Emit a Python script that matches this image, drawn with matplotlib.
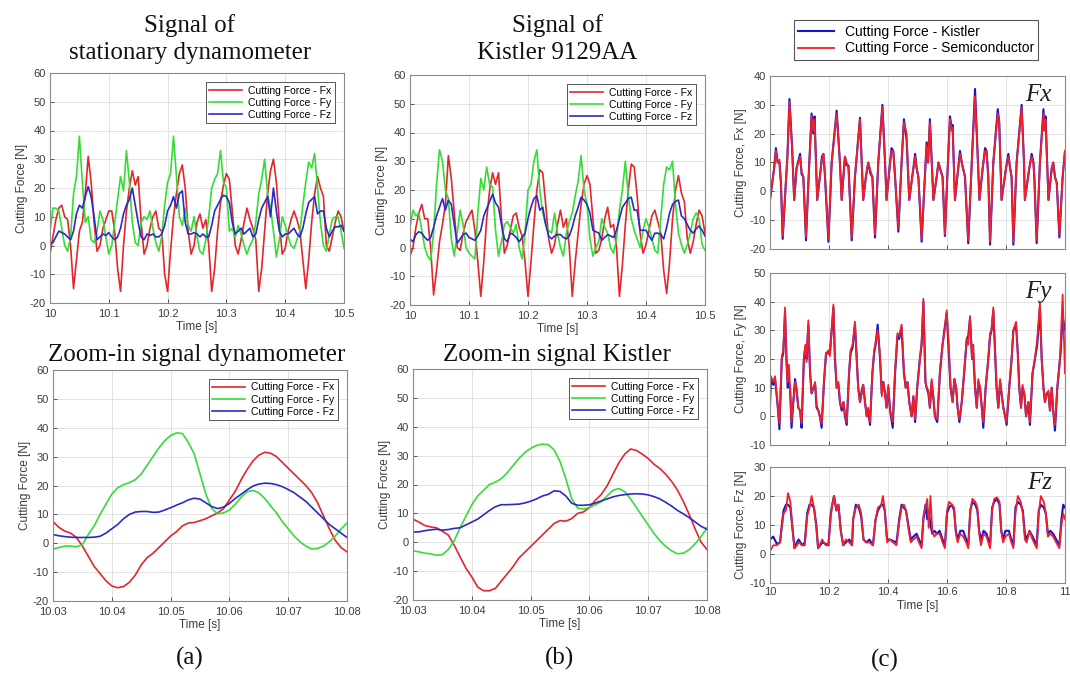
import numpy as np
import matplotlib
matplotlib.use("Agg")
import matplotlib.pyplot as plt

# ---------------- data ----------------
# top panels: 10.0 .. 10.5 s, one sample every 5 ms
t_top = np.linspace(10.0, 10.5, 101)

fx_dyn = [-3, 3, 9, 13, 14, 10, 9, 0, -15, -5,
          5, 8, 18, 31, 22, 8, -2, 0, 6, 9,
          12, 12, 5, -8, -16, 0, 12, 20, 26, 21,
          24, 8, -3, 0, 6, 10, 12, 6, 5, -10,
          -16, -2, 10, 18, 25, 28, 20, 5, -3, 0,
          8, 11, 6, 9, 0, -16, -8, 5, 15, 21,
          25, 23, 12, 0, -3, 2, 8, 13, 9, 6,
          2, -16, -8, 5, 18, 26, 30, 22, 8, -3,
          -1, 5, 9, 12, 9, 5, -5, -15, -5, 8,
          18, 24, 20, 17, 0, -2, 3, 8, 12, 10,
          5]
fy_dyn = [5, 13, 13, 12, 6, 0, -2, 3, 18, 24,
          38, 22, 8, 10, 2, 1, 5, 12, 9, 3,
          -3, 0, 8, 16, 24, 19, 33, 22, 8, 1,
          0, 8, 10, 9, 12, 6, 1, -2, 3, 14,
          22, 25, 38, 24, 10, 7, 13, 7, 5, 10,
          3, -2, -3, 2, 10, 20, 23, 25, 33, 22,
          20, 5, 6, 3, 7, 4, 0, -3, 0, 2,
          8, 18, 23, 30, 18, 13, 5, -4, 2, 10,
          7, 3, 0, -1, 2, 5, 14, 22, 29, 27,
          32, 20, 8, 0, -2, 4, 9, 10, 10, 5,
          -1]
fz_dyn = [1, 1, 3, 5, 4.5, 4, 3, 2, 5, 11,
          14, 13, 17, 20.5, 17, 10, 2, 3, 4, 3.5,
          4.5, 3, 2, 3, 6, 11, 14, 16, 20, 14,
          8, 3, 2, 4, 3.5, 4, 3, 3, 4, 7,
          12, 14, 17, 13, 18, 19, 8, 4, 4, 4.5,
          4, 3, 4, 3, 3, 7, 12, 14, 16, 17.5,
          17, 15, 8, 4, 5, 6, 4, 5, 6, 3,
          4, 9, 13, 15, 17, 10, 20, 12, 5, 3,
          4, 4, 5, 6, 4, 3, 6, 11, 15, 16,
          17, 11, 12, 12, 6, 3, 5, 6.5, 6.5, 7,
          5]

fx_kis = [-3, 0, 7, 12, 15, 10, 10, 0, -16.5, -8,
          2, 8, 15, 32, 24, 12, 0, -1, 5, 9,
          11, 13, 6, -5, -17, -5, 10, 20, 26, 22,
          26, 10, -2, 1, 6, 11, 12, 7, 4, -5,
          -17, -5, 8, 20, 27, 26, 15, 3, -2, 1,
          8, 13, 7, 10, 0, -17, -5, 5, 15, 22,
          25, 22, 10, -2, -1, 3, 10, 14, 7, 8,
          0, -17, -6, 8, 20, 29, 28, 18, 5, -2,
          1, 6, 11, 13, 9, 5, -8, -16, -5, 10,
          20, 25, 19, 16, 3, -2, 2, 8, 13, 11,
          5]
fy_kis = [7, 13, 11, 12, 6, 0, -3, -4.5, 5, 22,
          34, 30, 20, 17, 3, -3, 5, 13, 8, 0,
          -2, -3, -4, 12, 24, 20, 28, 22, 21, 6,
          -3, 2, 8, 9, 7, 5, 8, 0, -4, 5,
          20, 22, 30, 34, 20, 12, 8, 6, 5, 12,
          5, 0, -3, 5, 9, 12, 18, 23, 32, 20,
          15, 3, -3, 0, 2, 10, 7, 5, 0, -2,
          3, 13, 20, 30, 18, 10, 6, 3, 0, 6,
          10, 7, 3, -1, -2, 10, 22, 28, 27, 30,
          15, 5, 1, -2, 1, 5, 10, 12, 10, 1,
          -1]
fz_kis = [3, 2, 4.5, 5.5, 5, 3.5, 2.5, 3.5, 7, 11,
          14, 17, 13, 16.5, 15, 8, 1.5, 3, 4.5, 5,
          3.5, 3, 2.5, 4, 6, 11, 13.5, 16, 18.5, 15.5,
          14, 8, 3, 2, 5, 4.5, 3.5, 2, 3.5, 5,
          10, 14, 17, 18, 13, 14, 8, 4, 3, 4,
          4.5, 4.5, 3.5, 3, 4, 7, 11, 14, 17.5, 16.5,
          15, 12, 6, 5.5, 5, 2.5, 3.5, 4.5, 4, 3.5,
          6, 10, 14, 15.5, 17, 17.5, 13, 13, 6, 6,
          6, 4, 2.5, 5, 5, 4.5, 3, 7, 12, 15,
          16, 16.5, 11, 10, 8, 6, 5, 6.5, 7.5, 6,
          4]

# zoom-in panels: 10.03 .. 10.08 s, one sample every 1 ms
t_zoom = np.linspace(10.03, 10.08, 51)

fx_dyn_zoom = [7.5, 5.5, 4.2, 3.5, 2, -1, -4.5, -8, -10.5, -13,
               -14.8, -15.4, -15, -13.5, -11, -7.5, -5, -3.5, -1.5, 0.5,
               2.5, 4, 6, 7, 7.2, 7.8, 8.5, 9.5, 10.5, 12,
               15, 18, 22, 25.5, 28.5, 30.5, 31.5, 31.2, 30, 28,
               26, 24, 22, 20, 17.5, 14, 9.5, 5, 1, -1.5,
               -3]
fy_dyn_zoom = [-2, -1.5, -1, -1, -1.2, -0.5, 3, 6, 10, 13.5,
               17, 19.2, 20.3, 21, 22, 24, 27, 30, 33, 35.5,
               37.3, 38.2, 38, 35, 31, 24, 17, 12, 10.2, 10.5,
               11.5, 13.5, 16, 17.8, 18.3, 17.5, 15.5, 13, 10.5, 7.5,
               5, 2.5, 0.5, -1, -2, -1.8, -1, 0.5, 2.5, 5,
               7]
fz_dyn_zoom = [3, 2.6, 2.3, 2.1, 2, 2, 2, 2.1, 2.4, 3.5,
               5, 6.5, 8.5, 10, 10.8, 11, 11, 10.7, 10.8, 11.5,
               12.3, 13.2, 14, 15, 15.6, 15.3, 14, 12.7, 12, 12.5,
               13.8, 15.5, 17, 18.5, 19.8, 20.5, 20.8, 20.7, 20.3, 19.6,
               18.6, 17.5, 16, 14.5, 12.5, 10.5, 8.5, 6.5, 5, 3.5,
               2]

fx_kis_zoom = [8, 7, 5.8, 5.3, 5, 3.8, 2.5, -1, -5, -9,
               -12, -15.5, -16.8, -16.8, -16, -13.5, -11, -8.5, -5.5, -3.5,
               -1.5, 0.5, 2.5, 4.5, 6.5, 7.5, 7.3, 8.2, 10, 10.5,
               12, 14.5, 16.5, 19.5, 23.5, 27.5, 30.5, 32.3, 31.8, 30.5,
               29, 27, 25.5, 23.5, 21, 18, 14, 9.5, 4.5, 0,
               -2.5]
fy_kis_zoom = [-3, -3.3, -3.8, -4, -4.5, -4.3, -2.5, 0.5, 5, 9,
               13, 16, 18, 20, 20.8, 22, 24, 26.5, 29, 31,
               32.5, 33.5, 34, 33.8, 32, 28, 22, 15, 11.8, 11.5,
               12, 13, 14, 16, 18, 18.6, 17.5, 15, 12, 9,
               6, 3, 0.5, -1.5, -3, -4, -3.8, -2.5, -0.5, 2,
               5]
fz_kis_zoom = [3.5, 3.6, 4, 4.3, 4.5, 4.2, 4.4, 4.8, 5, 6,
               7, 8, 9.5, 11, 12.3, 13, 13, 13.1, 13.2, 13.6,
               14.2, 15, 16, 16.6, 17.8, 17.6, 16, 13.5, 12.8, 12.8,
               13, 13.6, 14.3, 15, 15.7, 16.2, 16.5, 16.7, 16.8, 16.7,
               16.4, 15.8, 15, 13.8, 12.5, 11, 9.8, 8.5, 7, 5.5,
               4.5]

# right column: Kistler vs semiconductor sensor, 10 .. 11 s
t_fx = [10.000, 10.014, 10.020, 10.026, 10.032, 10.037, 10.043, 10.052, 10.059, 10.066,
        10.075, 10.082, 10.090, 10.102, 10.107, 10.113, 10.122, 10.131, 10.141, 10.147,
        10.151, 10.160, 10.169, 10.176, 10.181, 10.186, 10.198, 10.209, 10.226, 10.237,
        10.243, 10.254, 10.260, 10.266, 10.277, 10.288, 10.305, 10.316, 10.325, 10.333,
        10.341, 10.347, 10.356, 10.367, 10.381, 10.390, 10.395, 10.407, 10.412, 10.418,
        10.424, 10.435, 10.446, 10.454, 10.463, 10.472, 10.486, 10.492, 10.497, 10.503,
        10.514, 10.525, 10.531, 10.536, 10.542, 10.554, 10.565, 10.571, 10.579, 10.585,
        10.593, 10.601, 10.610, 10.616, 10.619, 10.627, 10.638, 10.644, 10.650, 10.661,
        10.672, 10.684, 10.695, 10.703, 10.710, 10.721, 10.729, 10.734, 10.740, 10.746,
        10.757, 10.772, 10.777, 10.785, 10.800, 10.808, 10.814, 10.819, 10.825, 10.836,
        10.853, 10.861, 10.864, 10.879, 10.887, 10.893, 10.896, 10.904, 10.915, 10.927,
        10.930, 10.934, 10.944, 10.955, 10.960, 10.966, 10.972, 10.981, 10.992, 11.000]
fx_kistler = [-3, 8, 15, 10, 10, 3, -16.5, 0, 12, 32,
              15, -3, 8, 13, 6, 5, -17, 5, 27, 20,
              26, -3, 5, 12, 13, 6, -17.5, 10, 28, 10,
              -3, 12, 9, 9, -17, 5, 25.5, -3, 5, 10,
              6, 5, -16, 10, 30, 10, -3, 10, 15, 14,
              5, -14, 10, 25, 18, -3, 8, 13, 8, 5,
              -17.5, 5, 17, 10, 25, -3, 5, 10, 7, 5,
              -15.5, 5, 26, 22, 23, -3, 8, 14, 10, 5,
              -18, 10, 35.5, 15, -3, 8, 15, 14, 5, -18.5,
              10, 28.5, 24, -3, 8, 13, 8, 5, -18.5, 10,
              30, 10, -3, 8, 13, 10, 5, -18, 10, 28.5,
              22, 26, -3, 8, 10, 5, 3, -16, 5, 14]
fx_semi = [-3, 8, 14, 10, 11, 3, -15.5, 0, 12, 31,
           15, -3, 8, 12, 7, 5, -16, 5, 26, 21,
           25, -3, 5, 11, 13, 6, -16.5, 10, 27, 10,
           -3, 12, 10, 8, -16, 5, 25, -3, 5, 10,
           7, 5, -15, 10, 29.5, 10, -3, 10, 14, 14,
           5, -13, 10, 24, 20, -3, 8, 12, 8, 5,
           -16.5, 5, 16, 10, 24, -3, 5, 10, 7, 5,
           -15, 5, 25, 21, 22, -3, 8, 13, 10, 5,
           -17, 10, 33, 15, -3, 8, 14, 14, 5, -17.5,
           10, 27, 24, -3, 8, 12, 8, 5, -17.5, 10,
           29, 10, -3, 8, 12, 10, 5, -17, 10, 27,
           21, 25, -3, 8, 10, 5, 3, -15, 5, 14]

t_fy = [10.000, 10.003, 10.011, 10.017, 10.025, 10.032, 10.040, 10.045, 10.051, 10.056,
        10.060, 10.064, 10.068, 10.073, 10.079, 10.085, 10.090, 10.096, 10.102, 10.107,
        10.115, 10.120, 10.124, 10.130, 10.136, 10.141, 10.147, 10.153, 10.158, 10.164,
        10.169, 10.175, 10.183, 10.190, 10.198, 10.203, 10.209, 10.215, 10.220, 10.226,
        10.232, 10.237, 10.243, 10.249, 10.254, 10.260, 10.268, 10.273, 10.280, 10.288,
        10.294, 10.299, 10.305, 10.311, 10.316, 10.322, 10.328, 10.333, 10.339, 10.347,
        10.353, 10.358, 10.365, 10.373, 10.379, 10.384, 10.390, 10.395, 10.401, 10.407,
        10.416, 10.424, 10.432, 10.438, 10.446, 10.454, 10.460, 10.466, 10.472, 10.480,
        10.486, 10.492, 10.499, 10.508, 10.514, 10.520, 10.527, 10.531, 10.537, 10.542,
        10.548, 10.554, 10.559, 10.567, 10.576, 10.585, 10.591, 10.599, 10.606, 10.612,
        10.619, 10.625, 10.631, 10.636, 10.642, 10.650, 10.658, 10.667, 10.672, 10.678,
        10.685, 10.689, 10.695, 10.701, 10.706, 10.712, 10.718, 10.723, 10.731, 10.740,
        10.746, 10.751, 10.757, 10.764, 10.768, 10.774, 10.780, 10.785, 10.791, 10.797,
        10.802, 10.811, 10.819, 10.825, 10.834, 10.840, 10.845, 10.851, 10.856, 10.862,
        10.868, 10.876, 10.881, 10.890, 10.898, 10.906, 10.915, 10.921, 10.927, 10.932,
        10.938, 10.944, 10.949, 10.955, 10.960, 10.966, 10.974, 10.981, 10.985, 10.992,
        11.000]
fy_kistler = [4, 13, 11, 13, 5, -4.5, 20, 22, 36, 20,
              10, 12, 10, -4, 5, 13, 9, 3, 2, -4,
              20, 24, 20, 32, 15, 8, 10, 11, 3, 2,
              0, -4, 12, 22, 22, 22, 30, 38, 20, 10,
              11, 5, 2, 5, 0, -3, 15, 22, 24, 32,
              20, 10, 5, 9, 11, 5, 0, 2, -3, 15,
              22, 25, 32, 20, 8, 12, 8, 3, 10, 2,
              -4, 15, 28, 27, 31, 15, 10, 12, 5, 0,
              7, -2, 10, 20, 25, 40, 12, 10, 8, 3,
              12, 6, 0, -2, 15, 25, 30, 36, 22, 10,
              5, 13, 10, 3, -2, 5, 15, 27, 28, 34,
              20, 22, 10, 3, 12, 10, 3, -4, 10, 20,
              28, 30, 37, 20, 10, 3, 12, 8, 3, 0,
              -3, 10, 20, 30, 32, 22, 10, 3, 10, 8,
              0, 5, -3, 15, 20, 25, 38, 20, 10, 5,
              8, 8, 2, 10, 2, -5, 10, 18, 22, 35,
              30]
fy_semi = [10, 14, 12, 14, 5, -2.5, 21, 23, 38, 18,
           12, 18, 10, -2, 5, 12, 10, 3, 2, -2.5,
           21, 25, 19, 33.5, 15, 8, 10, 12, 4, 2,
           0, -2.5, 12, 22, 23, 21, 30, 39, 22, 10,
           12, 5, 3, 5, 1, -2, 15, 23, 25, 33,
           20, 10, 5, 8, 11, 5, 0, 3, -2, 15,
           23, 26, 30, 21, 7, 12, 8, 3, 11, 2,
           -2, 16, 29, 28, 32, 16, 10, 12, 5, 0,
           7, -1, 10, 20, 26, 41, 12, 10, 9, 3,
           13, 7, 0, -1, 16, 25, 29, 37, 25, 10,
           5, 13, 10, 3, -1, 5, 15, 27, 25, 35,
           20, 25, 10, 3, 13, 10, 3, -2, 10, 20,
           29, 30, 38, 20, 10, 3, 13, 8, 3, 0,
           -2, 10, 20, 30, 33, 22, 10, 3, 11, 8,
           0, 5, -2, 15, 20, 27, 39.5, 20, 10, 5,
           8, 9, 2, 10, 2, -3, 10, 17, 25, 42.5,
           15]

t_fz = [10.000, 10.011, 10.023, 10.034, 10.040, 10.046, 10.054, 10.061, 10.069, 10.077,
        10.083, 10.091, 10.097, 10.109, 10.118, 10.126, 10.134, 10.141, 10.149, 10.157,
        10.163, 10.177, 10.189, 10.198, 10.206, 10.211, 10.217, 10.225, 10.232, 10.240,
        10.248, 10.257, 10.269, 10.278, 10.282, 10.291, 10.301, 10.309, 10.317, 10.326,
        10.337, 10.349, 10.358, 10.366, 10.377, 10.383, 10.389, 10.397, 10.406, 10.417,
        10.429, 10.438, 10.446, 10.454, 10.461, 10.469, 10.477,
        10.486, 10.497, 10.505, 10.514, 10.520, 10.527, 10.533, 10.538, 10.544, 10.550,
        10.557, 10.566, 10.575, 10.585, 10.593, 10.600, 10.607, 10.617, 10.624, 10.630,
        10.636, 10.645, 10.655, 10.665, 10.672, 10.679, 10.686, 10.696, 10.703, 10.709,
        10.715, 10.724, 10.734, 10.746, 10.753, 10.760, 10.770, 10.778, 10.784, 10.790,
        10.798, 10.810, 10.818, 10.825, 10.832, 10.840, 10.850, 10.857, 10.864, 10.870,
        10.880, 10.890, 10.904, 10.911, 10.918, 10.928, 10.935, 10.942, 10.950, 10.960,
        10.970, 10.981, 10.988, 10.994, 11.000]
fz_kistler = [5, 6, 3.5, 4, 10, 15, 17, 17, 16, 8,
              2, 4, 5, 3, 4, 14, 17, 17, 16, 10,
              2, 4, 3.5, 3, 14, 17, 20, 15, 17, 8,
              3, 4, 5, 3, 12, 17, 16, 13, 5, 4,
              5, 3, 12, 15, 17, 17, 15, 5, 5, 4.5,
              4, 12, 17, 16, 15, 10, 5,
              6, 7, 5, 3, 12, 17, 12, 15, 10, 7,
              8, 7, 8, 5, 3, 14, 16, 17, 15, 8,
              5, 8, 8, 5, 3, 15, 18, 17, 15, 8,
              5, 8, 7, 3, 16, 18, 19, 17, 8, 5,
              8, 8, 5, 3, 16, 18, 17, 15, 7, 5,
              8, 6, 3, 15, 17, 16, 14, 7, 8, 7,
              5, 3, 12, 17, 16]
fz_semi = [1, 3, 3, 4, 9, 14, 15, 21, 18, 8,
           2, 3, 4, 3, 3, 13, 16, 20, 16, 9,
           2, 5, 3, 3, 13, 17, 20, 15, 17, 8,
           3, 5, 4, 3, 12, 16, 17, 14, 5, 4,
           4, 3, 12, 16, 17, 20, 15, 4, 5, 4,
           3, 11, 16, 17, 15, 9, 4,
           5, 6, 4, 2, 13, 16, 19, 9, 20, 8,
           6, 7, 7, 4, 2, 15, 18, 17, 16, 7,
           4, 7, 6, 4, 2, 15, 19, 18, 16, 7,
           3, 7, 6, 2, 15, 19, 19.5, 18, 8, 4,
           6, 7, 4, 2, 14, 20, 18, 14, 5, 4,
           8, 5, 2, 14, 20, 18, 14, 6, 7, 6,
           4, 2, 10, 14, 12]

# ---------------- style ----------------
W, H = 1070, 677
RED, GREEN, BLUE = "#e3262b", "#36dc36", "#2a2ac6"
K_BLUE, S_RED = "#1616c8", "#f0202a"
GREY = "#3c3c3c"
SANS = "Liberation Sans"
SERIF = "Liberation Serif"
plt.rcParams["font.family"] = SANS
plt.rcParams["axes.unicode_minus"] = False


def box(l, t, r, b):
    # pixel box -> figure fraction
    return [l / W, 1 - b / H, (r - l) / W, (b - t) / H]


def matlab_axes(ax, xlim, xticks, xlabels, ylim, yticks):
    ax.set_xlim(xlim)
    ax.set_ylim(ylim)
    ax.set_xticks(xticks)
    ax.set_xticklabels(xlabels)
    ax.set_yticks(yticks)
    ax.grid(True, color="#e2e2e2", linewidth=0.7)
    ax.set_axisbelow(True)
    ax.tick_params(direction="in", length=3, width=0.6, colors=GREY,
                   labelsize=8, pad=3)
    for s in ax.spines.values():
        s.set_color("#8a8a8a")
        s.set_linewidth(0.8)


fig = plt.figure(figsize=(W / 100, H / 100), dpi=100)

yt = np.arange(-20, 61, 10)
top_ticks = [10, 10.1, 10.2, 10.3, 10.4, 10.5]
top_labels = ["10", "10.1", "10.2", "10.3", "10.4", "10.5"]
zoom_ticks = [10.03, 10.04, 10.05, 10.06, 10.07, 10.08]
zoom_labels = ["10.03", "10.04", "10.05", "10.06", "10.07", "10.08"]

panels = [
    (box(50, 73, 344, 303), t_top, (fx_dyn, fy_dyn, fz_dyn), top_ticks, top_labels),
    (box(410, 75, 705, 305), t_top, (fx_kis, fy_kis, fz_kis), top_ticks, top_labels),
    (box(53, 370, 347, 601), t_zoom, (fx_dyn_zoom, fy_dyn_zoom, fz_dyn_zoom), zoom_ticks, zoom_labels),
    (box(413, 369, 707, 600), t_zoom, (fx_kis_zoom, fy_kis_zoom, fz_kis_zoom), zoom_ticks, zoom_labels),
]
for rect, t, (fx, fy, fz), xt, xl in panels:
    ax = fig.add_axes(rect)
    ax.plot(t, fx, color=RED, lw=1.2, label="Cutting Force - Fx")
    ax.plot(t, fy, color=GREEN, lw=1.2, label="Cutting Force - Fy")
    ax.plot(t, fz, color=BLUE, lw=1.2, label="Cutting Force - Fz")
    matlab_axes(ax, (xt[0], xt[-1]), xt, xl, (-20, 60), yt)
    ax.tick_params(axis="x", pad=4)
    ax.set_xlabel("Time [s]", fontsize=8.5, color=GREY, labelpad=2)
    ax.set_ylabel("Cutting Force [N]", fontsize=8.5, color=GREY, labelpad=1)
    leg = ax.legend(loc="upper right", fontsize=7.5, fancybox=False, framealpha=1,
                    edgecolor="#555555", handlelength=3.2, borderaxespad=0.9,
                    labelspacing=0.2, borderpad=0.3, handletextpad=0.6)
    leg.get_frame().set_linewidth(0.7)

# right column
right = [
    (box(770, 76, 1065, 249), t_fx, fx_kistler, fx_semi, (-20, 40), "Fx"),
    (box(770, 273, 1065, 445), t_fy, fy_kistler, fy_semi, (-10, 50), "Fy"),
    (box(770, 467, 1065, 583), t_fz, fz_kistler, fz_semi, (-10, 30), "Fz"),
]
rticks = [10, 10.2, 10.4, 10.6, 10.8, 11]
rlabels = ["10", "10.2", "10.4", "10.6", "10.8", "11"]
handles = None
for i, (rect, t, k, s, ylim, name) in enumerate(right):
    ax = fig.add_axes(rect)
    hk, = ax.plot(t, k, color=K_BLUE, lw=1.5, label="Cutting Force - Kistler")
    hs, = ax.plot(t, s, color=S_RED, lw=1.3, label="Cutting Force - Semiconductor")
    handles = handles or [hk, hs]
    matlab_axes(ax, (10, 11), rticks, rlabels if i == 2 else [""] * 6,
                ylim, np.arange(ylim[0], ylim[1] + 1, 10))
    ax.set_ylabel(f"Cutting Force, {name} [N]", fontsize=8.5, color=GREY, labelpad=2)
    ax.text(0.955, 0.955, name, transform=ax.transAxes, ha="right", va="top",
            fontsize=18, family=SERIF, style="italic", color="#202020")
    if i == 2:
        ax.set_xlabel("Time [s]", fontsize=8.5, color=GREY, labelpad=2)

leg = fig.legend(handles=handles, loc="center", bbox_to_anchor=(916 / W, 1 - 40 / H),
                 fontsize=10, fancybox=False, framealpha=1, edgecolor="#555555",
                 handlelength=2.6, labelspacing=0.2, borderpad=0.3)
leg.get_frame().set_linewidth(0.8)

# titles and panel letters
titles = [
    (190, 39, "Signal of\nstationary dynamometer"),
    (557, 39, "Signal of\nKistler 9129AA"),
    (197, 355, "Zoom-in signal dynamometer"),
    (557, 355, "Zoom-in signal Kistler"),
    (190, 658, "(a)"),
    (560, 658, "(b)"),
    (885, 660, "(c)"),
]
for x, y, txt in titles:
    fig.text(x / W, 1 - y / H, txt, ha="center", va="center", fontsize=18,
             family=SERIF, color="#111111", linespacing=1.35)

fig.savefig("out.png", dpi=100)
